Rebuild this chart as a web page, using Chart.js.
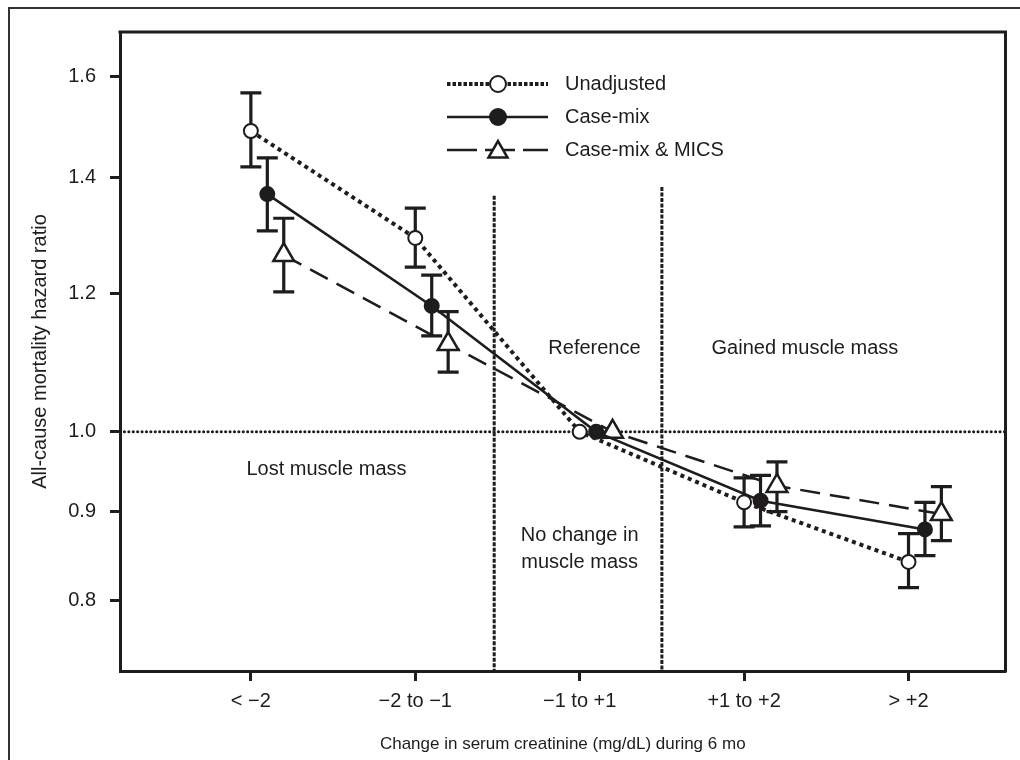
<!DOCTYPE html>
<html>
<head>
<meta charset="utf-8">
<script src="https://cdn.jsdelivr.net/npm/chart.js@4.4.1/dist/chart.umd.min.js"></script>
<style>
  html, body { margin: 0; padding: 0; background: #fff; }
  #wrap { width: 1020px; height: 760px; }
</style>
</head>
<body>
<div id="wrap"><canvas id="hrChart" width="1020" height="760"></canvas></div>
<script>
// ── Data ───────────────────────────────────────────────────
const categories = ['< \u22122', '\u22122 to \u22121', '\u22121 to +1', '+1 to +2', '> +2'];
const yTicks     = [0.8, 0.9, 1.0, 1.2, 1.4, 1.6];
const seriesShift = [0, 0.1, 0.2];   // small side offset per model

const unadjHR = [1.488, 1.292, 1.0, 0.911, 0.842];
const unadjLo = [1.419, 1.243, null, 0.882, 0.814];
const unadjHi = [1.565, 1.344, null, 0.941, 0.874];

const caseHR  = [1.369, 1.181, 1.0, 0.913, 0.879];
const caseLo  = [1.304, 1.135, null, 0.883, 0.849];
const caseHi  = [1.436, 1.230, null, 0.944, 0.911];

const micsHR  = [1.263, 1.123, 1.0, 0.931, 0.897];
const micsLo  = [1.203, 1.082, null, 0.900, 0.866];
const micsHi  = [1.326, 1.172, null, 0.961, 0.930];

// group dividers (between categories) and where they start at the top
const dividers    = [1.48, 2.5];
const dividerTops = [1.366, 1.382];
const refHR = 1.0;

// ── Look ───────────────────────────────────────────────────
const INK   = '#1e1c1d';
const FONT  = '"Liberation Sans", Arial, sans-serif';
const X_MIN = -0.796, X_MAX = 4.59;
const Y_MIN = 0.729,  Y_MAX = 1.696;

const pts = (vals, k) => vals.map((v, i) => ({ x: i + seriesShift[k], y: v }));

const seriesSets = [
  {
    label: 'Unadjusted', data: pts(unadjHR, 0), lo: unadjLo, hi: unadjHi,
    borderColor: INK, borderWidth: 4, borderDash: [4, 4], legendDash: [3.5, 2],
    pointStyle: 'circle', pointRadius: 7, pointBorderWidth: 2,
    pointBackgroundColor: '#fff', pointBorderColor: INK, order: 1
  },
  {
    label: 'Case-mix', data: pts(caseHR, 1), lo: caseLo, hi: caseHi,
    borderColor: INK, borderWidth: 2.5, borderDash: [], legendDash: [],
    pointStyle: 'circle', pointRadius: 7, pointBorderWidth: 2,
    pointBackgroundColor: INK, pointBorderColor: INK, order: 2
  },
  {
    label: 'Case-mix & MICS', data: pts(micsHR, 2), lo: micsLo, hi: micsHi,
    borderColor: INK, borderWidth: 2.5, borderDash: [20, 10], legendDash: [30, 8],
    pointStyle: 'triangle', pointRadius: 12, pointBorderWidth: 2.5,
    pointBackgroundColor: '#fff', pointBorderColor: INK, order: 3
  }
];

const refSets = [
  {
    data: [{ x: X_MIN, y: refHR }, { x: X_MAX, y: refHR }],
    borderColor: INK, borderWidth: 3, borderDash: [0.1, 4.3], borderCapStyle: 'round',
    pointRadius: 0, order: 10
  },
  ...dividers.map((d, i) => ({
    data: [{ x: d, y: dividerTops[i] }, { x: d, y: Y_MIN }],
    borderColor: INK, borderWidth: 3, borderDash: [4, 1.5],
    pointRadius: 0, order: 10
  }))
];

// ── Plugins ────────────────────────────────────────────────
const errorBars = {
  id: 'errorBars',
  beforeDatasetsDraw(chart) {
    const { ctx, scales: { x, y } } = chart;
    ctx.save();
    ctx.strokeStyle = INK;
    ctx.lineWidth = 3.2;
    ctx.setLineDash([]);
    chart.data.datasets.forEach(ds => {
      if (!ds.lo) return;
      ds.data.forEach((p, j) => {
        if (ds.lo[j] == null) return;
        const px = x.getPixelForValue(p.x);
        const y1 = y.getPixelForValue(ds.lo[j]);
        const y2 = y.getPixelForValue(ds.hi[j]);
        ctx.beginPath();
        ctx.moveTo(px, y1); ctx.lineTo(px, y2);
        ctx.moveTo(px - 10.5, y1); ctx.lineTo(px + 10.5, y1);
        ctx.moveTo(px - 10.5, y2); ctx.lineTo(px + 10.5, y2);
        ctx.stroke();
      });
    });
    ctx.restore();
  }
};

const frame = {
  id: 'frame',
  afterDraw(chart) {
    const { ctx, chartArea: a } = chart;
    ctx.save();
    ctx.setLineDash([]);
    // outer figure border
    ctx.strokeStyle = '#333';
    ctx.lineWidth = 2;
    ctx.strokeRect(9, 8, 1100, 1000);
    // top + right sides of the plot box
    ctx.strokeStyle = INK;
    ctx.lineWidth = 3;
    ctx.beginPath();
    ctx.moveTo(a.left - 1.5, a.top);
    ctx.lineTo(a.right, a.top);
    ctx.lineTo(a.right, a.bottom + 1.5);
    ctx.stroke();
    ctx.restore();
  }
};

const notes = {
  id: 'notes',
  afterDraw(chart) {
    const { ctx, scales: { x, y } } = chart;
    const items = [
      ['Reference',          2.09, 1.116],
      ['Gained muscle mass', 3.37, 1.116],
      ['Lost muscle mass',   0.46, 0.951],
      ['No change in',       2.0,  0.872],
      ['muscle mass',        2.0,  0.841]
    ];
    ctx.save();
    ctx.fillStyle = INK;
    ctx.font = '20px ' + FONT;
    ctx.textAlign = 'center';
    ctx.textBaseline = 'middle';
    items.forEach(([t, vx, vy]) => ctx.fillText(t, x.getPixelForValue(vx), y.getPixelForValue(vy)));
    ctx.restore();
  }
};

const keyBox = {
  id: 'keyBox',
  afterDraw(chart) {
    const { ctx } = chart;
    const x0 = 447, x1 = 548, xm = 498, tx = 565;
    const rows = [84, 117, 150];
    ctx.save();
    ctx.font = '20px ' + FONT;
    ctx.textBaseline = 'middle';
    seriesSets.forEach((ds, i) => {
      const yy = rows[i];
      ctx.strokeStyle = INK;
      ctx.lineWidth = i === 0 ? 4 : 2.5;
      ctx.setLineDash(ds.legendDash);
      ctx.beginPath();
      ctx.moveTo(x0, yy); ctx.lineTo(x1, yy);
      ctx.stroke();
      ctx.setLineDash([]);
      ctx.fillStyle = ds.pointBackgroundColor;
      ctx.strokeStyle = ds.pointBorderColor;
      ctx.lineWidth = ds.pointBorderWidth;
      Chart.helpers.drawPoint(ctx, {
        pointStyle: ds.pointStyle, radius: ds.pointStyle === 'triangle' ? 11 : 8,
        borderWidth: ds.pointBorderWidth, rotation: 0
      }, xm, yy + (ds.pointStyle === 'triangle' ? 2 : 0));
      ctx.fillStyle = INK;
      ctx.fillText(ds.label, tx, yy);
    });
    ctx.restore();
  }
};

// ── Chart ──────────────────────────────────────────────────
const tickFont = { family: FONT, size: 20 };

new Chart(document.getElementById('hrChart').getContext('2d'), {
  type: 'line',
  data: { datasets: [...seriesSets, ...refSets] },
  options: {
    responsive: false,
    animation: false,
    layout: { padding: { left: 0, top: 32, right: 14, bottom: 0 } },
    elements: { line: { tension: 0 } },
    plugins: { legend: { display: false }, tooltip: { enabled: false } },
    scales: {
      x: {
        type: 'linear', min: X_MIN, max: X_MAX, bounds: 'data',
        afterFit: s => { s.height = 89; },
        afterBuildTicks: s => {
          s.ticks = categories.map((c, i) => ({ value: i }));
          s.min = X_MIN; s.max = X_MAX;
        },
        ticks: { callback: v => categories[v], font: tickFont, color: INK, padding: 8, maxRotation: 0 },
        grid: { drawOnChartArea: false, tickLength: 10, tickWidth: 3, tickColor: INK },
        border: { color: INK, width: 3 },
        title: {
          display: true, text: 'Change in serum creatinine (mg/dL) during 6 mo',
          font: { family: FONT, size: 17 }, color: INK, padding: { top: 0, bottom: 5 }
        }
      },
      y: {
        type: 'logarithmic', min: Y_MIN, max: Y_MAX, bounds: 'data',
        afterFit: s => { s.width = 120; },
        afterBuildTicks: s => {
          s.ticks = yTicks.map(v => ({ value: v }));
          s.min = Y_MIN; s.max = Y_MAX;
        },
        ticks: { callback: v => Number(v).toFixed(1), font: tickFont, color: INK, padding: 14 },
        grid: { drawOnChartArea: false, tickLength: 10, tickWidth: 3, tickColor: INK },
        border: { color: INK, width: 3 },
        title: {
          display: true, text: 'All-cause mortality hazard ratio',
          font: { family: FONT, size: 20 }, color: INK, padding: { top: 28, bottom: 0 }
        }
      }
    }
  },
  plugins: [errorBars, frame, notes, keyBox]
});
</script>
</body>
</html>
